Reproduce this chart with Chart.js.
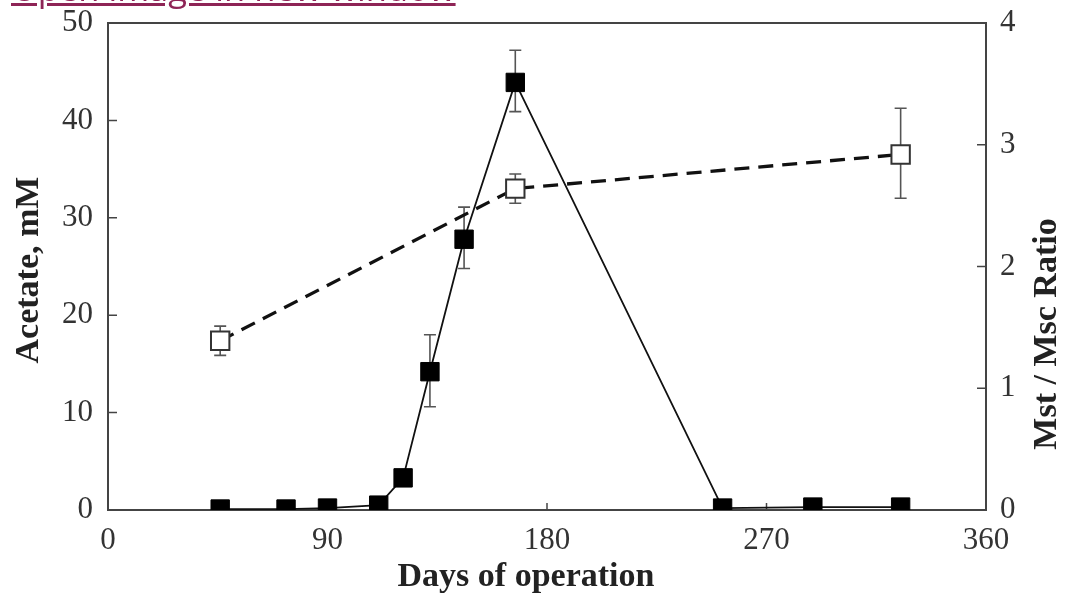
<!DOCTYPE html>
<html>
<head>
<meta charset="utf-8">
<script src="https://cdn.jsdelivr.net/npm/chart.js@4"></script>
<style>
  html, body { margin: 0; padding: 0; background: #ffffff; overflow: hidden; }
  #wrap { position: relative; width: 1066px; height: 596px; }
  #link { position: absolute; left: 11px; top: -32px; font-family: 'Open Sans', sans-serif; font-size: 34.5px; line-height: 40px; color: #8e2456; text-decoration: underline; white-space: nowrap; z-index: 2; }
  canvas { position: absolute; left: 0; top: 0; }
</style>
</head>
<body>
<div id="wrap">
  <a id="link">Open image in new window</a>
  <canvas id="c" width="1066" height="596"></canvas>
</div>
<script>
// ---- Data ----
const days        = [46, 73, 90, 111, 121, 132, 146, 167, 252, 289, 325];
const acetate     = [0.1, 0.1, 0.2, 0.5, 3.3, 14.2, 27.8, 43.9, 0.2, 0.3, 0.3];
const acetateLow  = [null, null, null, null, null, 10.6, 24.8, 40.9, null, null, null];
const acetateHigh = [null, null, null, null, null, 18.0, 31.1, 47.2, null, null, null];

const ratioDays  = [46, 167, 325];
const ratio      = [1.39, 2.64, 2.92];
const ratioLow   = [1.27, 2.52, 2.56];
const ratioHigh  = [1.51, 2.76, 3.30];

const xTicks      = [0, 90, 180, 270, 360];
const leftTicks   = [0, 10, 20, 30, 40, 50];
const rightTicks  = [0, 1, 2, 3, 4];

const xTitle     = 'Days of operation';
const leftTitle  = 'Acetate, mM';
const rightTitle = 'Mst / Msc Ratio';

// ---- Plugins ----
const frameAndTicks = {
  id: 'frameAndTicks',
  beforeDatasetsDraw(chart) {
    const { ctx, chartArea: a, scales } = chart;
    ctx.save();
    ctx.strokeStyle = '#444';
    ctx.lineWidth = 2;
    ctx.strokeRect(a.left, a.top, a.right - a.left, a.bottom - a.top);
    ctx.lineWidth = 1.5;
    ctx.beginPath();
    xTicks.slice(1, -1).forEach(v => {
      const px = scales.x.getPixelForValue(v);
      ctx.moveTo(px, a.bottom); ctx.lineTo(px, a.bottom - 7);
    });
    leftTicks.slice(1, -1).forEach(v => {
      const py = scales.y.getPixelForValue(v);
      ctx.moveTo(a.left, py); ctx.lineTo(a.left + 9, py);
    });
    rightTicks.slice(1, -1).forEach(v => {
      const py = scales.y2.getPixelForValue(v);
      ctx.moveTo(a.right, py); ctx.lineTo(a.right - 9, py);
    });
    ctx.stroke();

    // error bars
    const drawErr = (xs, lows, highs, yScale) => {
      ctx.beginPath();
      xs.forEach((d, i) => {
        if (lows[i] == null || highs[i] == null) return;
        const px = scales.x.getPixelForValue(d);
        const p1 = yScale.getPixelForValue(lows[i]);
        const p2 = yScale.getPixelForValue(highs[i]);
        ctx.moveTo(px, p1); ctx.lineTo(px, p2);
        ctx.moveTo(px - 6, p1); ctx.lineTo(px + 6, p1);
        ctx.moveTo(px - 6, p2); ctx.lineTo(px + 6, p2);
      });
      ctx.stroke();
    };
    ctx.strokeStyle = '#555';
    ctx.lineWidth = 1.6;
    drawErr(days, acetateLow, acetateHigh, scales.y);
    drawErr(ratioDays, ratioLow, ratioHigh, scales.y2);
    ctx.restore();
  },
  afterDraw(chart) {
    const { ctx } = chart;
    ctx.save();
    ctx.fillStyle = '#222';
    ctx.font = "bold 34px 'Liberation Serif'";
    ctx.textAlign = 'center';
    ctx.textBaseline = 'middle';
    ctx.fillText(xTitle, 526, 577);
    ctx.save();
    ctx.translate(29, 270);
    ctx.rotate(-Math.PI / 2);
    ctx.fillText(leftTitle, 0, 0);
    ctx.restore();
    ctx.save();
    ctx.translate(1047, 334);
    ctx.rotate(-Math.PI / 2);
    ctx.fillText(rightTitle, 0, 0);
    ctx.restore();
    ctx.restore();
  }
};

const tickFont = { family: "'Liberation Serif'", size: 31 };

const fitV = w => s => { s.width = w; s.paddingTop = 0; s.paddingBottom = 0; };

new Chart(document.getElementById('c'), {
  type: 'line',
  data: {
    datasets: [
      {
        label: 'Acetate',
        data: days.map((d, i) => ({ x: d, y: acetate[i] })),
        yAxisID: 'y',
        borderColor: '#111',
        borderWidth: 1.8,
        backgroundColor: '#000',
        pointStyle: 'rect',
        pointRadius: 13,
        pointBorderWidth: 1,
        pointBorderColor: '#000',
        pointBackgroundColor: '#000',
        tension: 0,
        order: 1
      },
      {
        label: 'Mst / Msc Ratio',
        data: ratioDays.map((d, i) => ({ x: d, y: ratio[i] })),
        yAxisID: 'y2',
        borderColor: '#111',
        borderWidth: 3.3,
        borderDash: [15, 9],
        pointStyle: 'rect',
        pointRadius: 13,
        pointBorderWidth: 2,
        pointBorderColor: '#333',
        pointBackgroundColor: '#fff',
        tension: 0,
        order: 2
      }
    ]
  },
  options: {
    responsive: false,
    animation: false,
    devicePixelRatio: 1,
    layout: { padding: { top: 23, left: 0, right: 0, bottom: 0 } },
    plugins: { legend: { display: false }, tooltip: { enabled: false } },
    scales: {
      x: {
        type: 'linear', position: 'bottom', min: 0, max: 360,
        afterBuildTicks: s => { s.ticks = xTicks.map(v => ({ value: v })); },
        ticks: { font: tickFont, color: '#333', padding: 12, maxRotation: 0, autoSkip: false },
        grid: { display: false, drawTicks: false },
        border: { display: false },
        afterFit: s => { s.height = 86; s.paddingLeft = 0; s.paddingRight = 0; }
      },
      y: {
        type: 'linear', position: 'left', min: 0, max: 50,
        afterBuildTicks: s => { s.ticks = leftTicks.map(v => ({ value: v })); },
        ticks: { font: tickFont, color: '#333', padding: 15 },
        grid: { display: false, drawTicks: false },
        border: { display: false },
        afterFit: fitV(108)
      },
      y2: {
        type: 'linear', position: 'right', min: 0, max: 4,
        afterBuildTicks: s => { s.ticks = rightTicks.map(v => ({ value: v })); },
        ticks: { font: tickFont, color: '#333', padding: 14 },
        grid: { display: false, drawTicks: false },
        border: { display: false },
        afterFit: fitV(80)
      }
    }
  },
  plugins: [frameAndTicks]
});
</script>
</body>
</html>
